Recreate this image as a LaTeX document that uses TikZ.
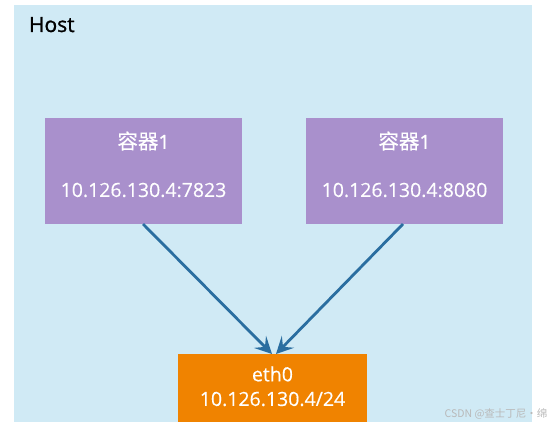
\documentclass[tikz,border=0pt]{standalone}
\usepackage{fontspec}
\setmainfont{Open Sans}
\newfontfamily\cjk{Noto Sans CJK SC}
\newfontfamily\hostfont[FakeBold=1.2]{Open Sans}
\newfontfamily\lblfont[FakeBold=0.4]{Open Sans}
\newfontfamily\lblcjk[FakeBold=0.4]{Noto Sans CJK SC}
\usetikzlibrary{arrows.meta}
\definecolor{hostbg}{HTML}{D0EAF5}
\definecolor{contbg}{HTML}{A990CC}
\definecolor{ethbg}{HTML}{F08300}
\definecolor{arrowc}{HTML}{2A6EA0}
\tikzset{
  container/.style={fill=contbg, draw=none, minimum width=197pt, minimum height=106pt, inner sep=0pt},
  ethbox/.style={fill=ethbg, draw=none, minimum width=189pt, minimum height=68pt, inner sep=0pt},
  lbl/.style={text=white, font=\lblfont\fontsize{19.5}{22}\selectfont},
  link/.style={draw=arrowc, line width=2.8pt, -{Stealth[length=17pt,width=17pt,inset=7pt]}},
}
\begin{document}
\begin{tikzpicture}[x=1pt,y=-1pt]
\useasboundingbox (0,0) rectangle (554,428);
\fill[white] (0,0) rectangle (554,428);
\node[fill=hostbg, minimum width=518pt, minimum height=417pt, inner sep=0pt, anchor=north west] (host) at (14,5) {};
\node[anchor=base west, font=\hostfont\fontsize{21}{24}\selectfont] (hostlbl) at (25.5,32) {Host};
\node[container, anchor=north west] (c1) at (45,118) {};
\node[container, anchor=north west] (c2) at (306,118) {};
\node[lbl] (c1t) at (143.5,141) {{\lblcjk\fontsize{20.5}{22}\selectfont 容器}1};
\node[lbl] (c1ip) at (143.5,190) {10.126.130.4:7823};
\node[lbl] (c2t) at (404.5,141) {{\lblcjk\fontsize{20.5}{22}\selectfont 容器}1};
\node[lbl] (c2ip) at (404.5,190) {10.126.130.4:8080};
\node[ethbox, anchor=north west] (eth) at (178,354) {};
\node[lbl] (etht) at (272.5,374) {eth0};
\node[lbl] (ethip) at (272.5,399) {10.126.130.4/24};
\coordinate (s1) at (143,224);
\coordinate (s2) at (403,224);
\coordinate (e1) at (272,354);
\coordinate (e2) at (276,354);
\draw[link] (s1) -- (e1);
\draw[link] (s2) -- (e2);
\node[anchor=base east, text=gray!55, font=\cjk\fontsize{10.5}{12}\selectfont] (wm) at (551,417) {CSDN @查士丁尼·绵};
\end{tikzpicture}
\end{document}
